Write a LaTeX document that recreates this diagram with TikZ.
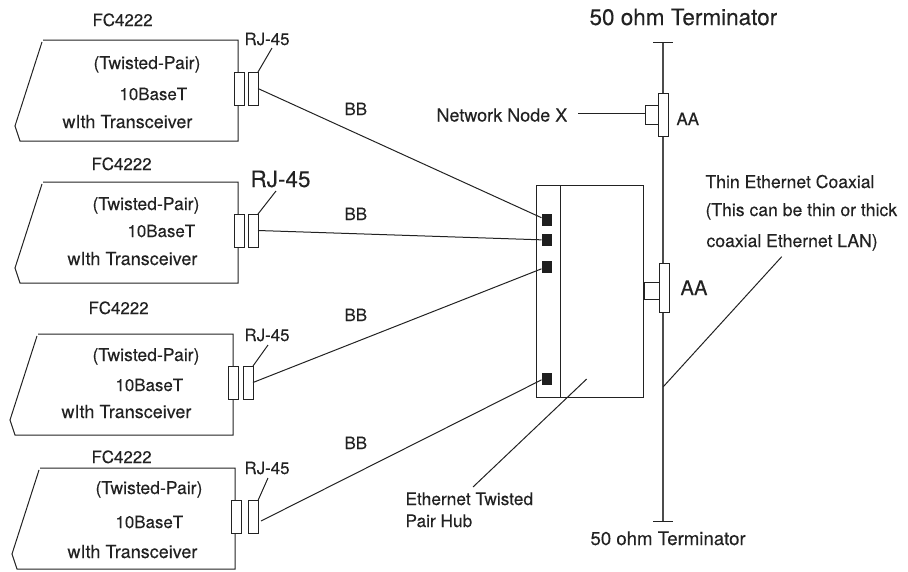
\documentclass[tikz,border=0pt]{standalone}
\usepackage{fontspec}
\setmainfont{TeX Gyre Heros}[FakeBold=0.2]
\usepackage{xcolor}
\definecolor{inkline}{HTML}{222222}
\tikzset{
  lab/.style={anchor=base west,inner sep=0pt,text=inkline,font=\fontsize{17.6}{20}\selectfont},
  widelab/.style={lab,font=\fontsize{18}{20}\selectfont},
  shortlab/.style={lab,font=\fontsize{16.9}{20}\selectfont},
  biglab/.style={lab,font=\fontsize{22.5}{26}\selectfont},
  plug/.style={draw=inkline,fill=white,line width=1pt,rectangle,inner sep=0pt,outer sep=0pt,minimum width=10pt,minimum height=33pt},
  port/.style={fill=black!88,rectangle,inner sep=0pt,outer sep=0pt,minimum width=10pt,minimum height=12pt},
  tap/.style={draw=inkline,fill=white,line width=1pt,rectangle,inner sep=0pt,outer sep=0pt},
}
\begin{document}
\begin{tikzpicture}[x=1pt,y=-1pt,line width=1pt,draw=inkline]
  \useasboundingbox (0,0) rectangle (908,571);
  % bus
  \coordinate (bustop) at (663,42);
  \coordinate (busbot) at (663,521);
  \draw[line width=1.2pt,black!70] (bustop)--(busbot);
  \draw ([xshift=-10pt]bustop)--([xshift=10pt]bustop);
  \draw ([xshift=-10pt]busbot)--([xshift=10pt]busbot);
  % hub
  \node[tap,minimum width=107pt,minimum height=212pt] (hub) at (589.5,291) {};
  \draw ([xshift=24pt]hub.north west)--([xshift=24pt]hub.south west);
  \foreach \c/\y in {1/220,2/240,3/267,4/379}
    \node[port] (port\c) at (546.5,\y) {};
  % cards
  \foreach \c/\dx/\dy/\lx/\rx/\py in {1/0/0/239/253/88.5,2/0/142/239/253/230.5,3/-5/294/233/248/382.5,4/-3/428/236/253/517} {
    \draw[xshift=\dx pt,yshift=-\dy pt] (43,40)--(238,40)--(238,141)--(20,141)--(15,126)--(42,42);
    \node[plug] (plugL\c) at (\lx,\py) {};
    \node[plug] (plugR\c) at (\rx,\py) {};
  }
  % card texts
  \foreach \c/\fx/\fy/\tx/\ty/\bx/\by/\wx/\wy in {
    1/92/26/93/69/119/100/62/128,
    2/91/170/92/210/127/237/67/265,
    3/88/314/92/361/115/391/61/418,
    4/91/463/95/494/115/528/67/558} {
    \node[shortlab] (fc\c) at (\fx,\fy) {FC4222};
    \node[lab] (tp\c) at (\tx,\ty) {(Twisted-Pair)};
    \node[shortlab] (bt\c) at (\bx,\by) {10BaseT};
    \node[widelab] (wt\c) at (\wx,\wy) {wIth Transceiver};
  }
  \node[shortlab] (rj1) at (244,45) {RJ-45};
  \node[biglab] (rj2) at (250,187) {RJ-45};
  \node[shortlab] (rj3) at (244,341) {RJ-45};
  \node[shortlab] (rj4) at (244,474) {RJ-45};
  % leaders to the plugs
  \foreach \c/\x/\y in {1/272/48,2/276/191,3/268/345,4/268/478} {
    \coordinate (rjtip\c) at (\x,\y);
    \draw (rjtip\c)--(plugR\c.north east);
  }
  % cables
  \draw (plugR1.east)--(port1);
  \draw (plugR2.east)--(port2);
  \draw (plugR3.east)--(port3.200);
  \draw ([xshift=3pt,yshift=-4pt]plugR4.east)--(port4.190);
  \node[shortlab] (bb1) at (344,115) {BB};
  \node[shortlab] (bb2) at (344,220) {BB};
  \node[shortlab] (bb3) at (344,321) {BB};
  \node[shortlab] (bb4) at (344,449) {BB};
  % taps on the bus
  \node[tap,minimum width=13pt,minimum height=18.5pt] (tapA) at (652,115.2) {};
  \node[tap,minimum width=10pt,minimum height=43pt] (aaA) at (663.3,114.5) {};
  \node[tap,minimum width=15pt,minimum height=17pt] (tapB) at (651.5,290.5) {};
  \node[tap,minimum width=10pt,minimum height=49pt] (aaB) at (664,287.5) {};
  \node[widelab] (netx) at (436,121.5) {Network Node X};
  \coordinate (netend) at (578,113.7);
  \draw (netend)--(tapA.west|-netend);
  \node[shortlab] (lblA) at (676,125) {AA};
  \node[lab,font=\fontsize{20.2}{24}\selectfont] (lblB) at (680,295) {AA};
  % labels on the right
  \node[biglab] (termtop) at (589,25) {50 ohm Terminator};
  \node[lab,font=\fontsize{18.6}{22}\selectfont] (termbot) at (590,545) {50 ohm Terminator};
  \node[lab] (thina) at (705,188) {Thin Ethernet Coaxial};
  \node[lab] (thinb) at (705,216) {(This can be thin or thick};
  \node[lab] (thinc) at (706,247) {coaxial Ethernet LAN)};
  \node[lab,font=\fontsize{17.3}{20}\selectfont] (hublaba) at (405,505) {Ethernet Twisted};
  \node[lab,font=\fontsize{17.3}{20}\selectfont] (hublabb) at (405,527) {Pair Hub};
  \coordinate (thintip) at (781.7,256.7);
  \coordinate (thinfoot) at (663.3,386.7);
  \draw (thintip)--(thinfoot);
  \coordinate (hubtip) at (586.7,379);
  \coordinate (hubfoot) at (473,487);
  \draw (hubtip)--(hubfoot);
\end{tikzpicture}
\end{document}
